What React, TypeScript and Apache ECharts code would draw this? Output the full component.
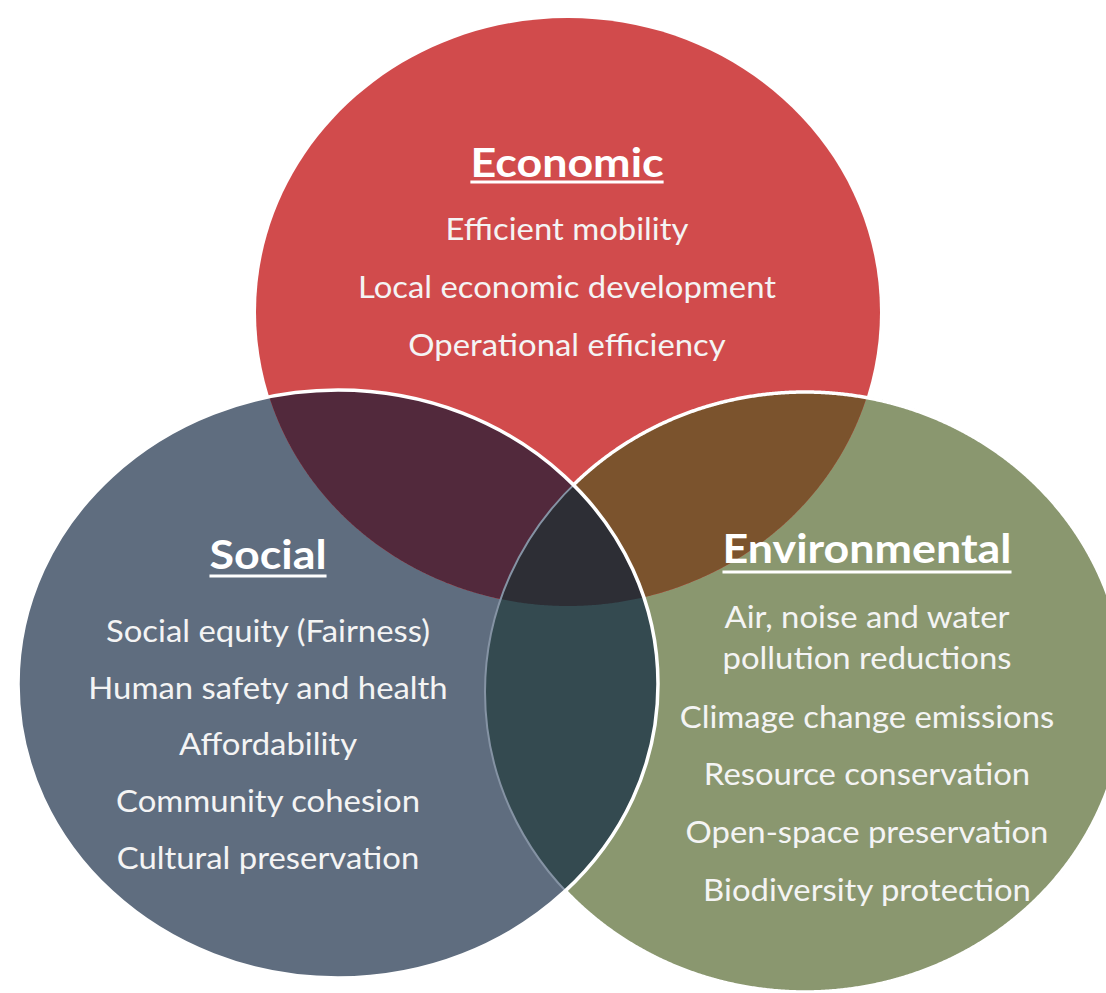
import React, { useEffect, useRef } from "react";
import * as echarts from "echarts";

// ---- Data (texts of the diagram) ----
const setTitles = ["Economic", "Social", "Environmental"];
const economicItems = ["Efficient mobility", "Local economic development", "Operational efficiency"];
const socialItems = [
  "Social equity (Fairness)",
  "Human safety and health",
  "Affordability",
  "Community cohesion",
  "Cultural preservation",
];
const environmentalItems = [
  "Air, noise and water",
  "pollution reductions",
  "Climage change emissions",
  "Resource conservation",
  "Open-space preservation",
  "Biodiversity protection",
];

// ---- Layout / style ----
type Ell = { cx: number; cy: number; rx: number; ry: number };
const ECO: Ell = { cx: 568, cy: 312, rx: 312, ry: 294 };
const SOC: Ell = { cx: 338, cy: 684, rx: 320, ry: 294 };
const ENV: Ell = { cx: 805, cy: 692, rx: 320, ry: 300 };

const C_ECO = "#D14B4C";
const C_SOC = "#5F6D7F";
const C_ENV = "#8A976F";
const C_ECO_SOC = "#52293C";
const C_ECO_ENV = "#7B532D";
const C_SOC_ENV = "#344A50";
const C_ALL = "#2D2E35";
const TXT = "#F4F4F4";
const FONT = "Lato, 'Open Sans', sans-serif";
const TITLE_SIZE = 40;
const ITEM_SIZE = 31;
const TITLE_SX = 1.12;
const ITEM_SX = 1.06;

const N = 1440;
function ellPts(e: Ell, t0 = 0): number[][] {
  const pts: number[][] = [];
  for (let i = 0; i < N; i++) {
    const t = t0 + (2 * Math.PI * i) / N;
    pts.push([e.cx + e.rx * Math.cos(t), e.cy + e.ry * Math.sin(t)]);
  }
  return pts;
}
function inside(p: number[], e: Ell) {
  const dx = (p[0] - e.cx) / e.rx;
  const dy = (p[1] - e.cy) / e.ry;
  return dx * dx + dy * dy <= 1;
}
// intersection of convex ellipses -> convex polygon (boundary samples sorted by angle)
function intersect(list: Ell[]): number[][] {
  const pts: number[][] = [];
  list.forEach((e) => {
    ellPts(e).forEach((p) => {
      if (list.every((o) => o === e || inside(p, o))) pts.push(p);
    });
  });
  const mx = pts.reduce((s, p) => s + p[0], 0) / pts.length;
  const my = pts.reduce((s, p) => s + p[1], 0) / pts.length;
  return pts.sort((a, b) => Math.atan2(a[1] - my, a[0] - mx) - Math.atan2(b[1] - my, b[0] - mx));
}

function measure(text: string, font: string) {
  const c = document.createElement("canvas").getContext("2d")!;
  c.font = font;
  return c.measureText(text).width;
}

export default function App() {
  const ref = useRef<HTMLDivElement>(null);
  useEffect(() => {
    document.body.style.margin = "0";
    const chart = echarts.init(ref.current!, null, { renderer: "svg" });

    const elements: any[] = [];
    // base fills
    [
      [ENV, C_ENV],
      [SOC, C_SOC],
      [ECO, C_ECO],
    ].forEach(([e, c]: any) => {
      elements.push({ type: "ellipse", shape: { ...e }, style: { fill: c } });
    });
    // overlaps
    [
      [[ECO, SOC], C_ECO_SOC],
      [[ECO, ENV], C_ECO_ENV],
      [[SOC, ENV], C_SOC_ENV],
      [[ECO, SOC, ENV], C_ALL],
    ].forEach(([l, c]: any) => {
      elements.push({ type: "polygon", shape: { points: intersect(l) }, style: { fill: c } });
    });
    // environmental outline: faint inside social, white elsewhere
    elements.push({
      type: "ellipse",
      shape: { ...ENV },
      style: { fill: "none", stroke: "#8593A4", lineWidth: 2 },
    });
    const envOut = ellPts(ENV, Math.PI).filter((p) => !inside(p, SOC));
    elements.push({
      type: "polyline",
      shape: { points: envOut },
      style: { fill: "none", stroke: "#FFFFFF", lineWidth: 3.5 },
    });
    // social outline white
    elements.push({
      type: "ellipse",
      shape: { ...SOC },
      style: { fill: "none", stroke: "#FFFFFF", lineWidth: 3.5 },
    });

    const titleFont = `bold ${TITLE_SIZE}px ${FONT}`;
    const blocks = [
      { title: setTitles[0], items: economicItems, x: 567, ty: 161, uy: 182, ys: [228, 286, 344] },
      { title: setTitles[1], items: socialItems, x: 268, ty: 553, uy: 576, ys: [630, 687, 743, 800, 857] },
      {
        title: setTitles[2],
        items: environmentalItems,
        x: 867,
        ty: 547,
        uy: 572,
        ys: [616, 657, 716, 773, 831, 889],
      },
    ];
    blocks.forEach((b) => {
      elements.push({
        type: "text",
        x: b.x,
        y: b.ty,
        scaleX: TITLE_SX,
        style: {
          text: b.title,
          fill: "#FFFFFF",
          fontSize: TITLE_SIZE,
          fontWeight: "bold",
          fontFamily: FONT,
          align: "center",
          verticalAlign: "middle",
          textAlign: "center",
          textVerticalAlign: "middle",
        },
      });
      const w = measure(b.title, titleFont) * TITLE_SX;
      elements.push({
        type: "line",
        shape: { x1: b.x - w / 2, y1: b.uy, x2: b.x + w / 2, y2: b.uy },
        style: { stroke: "#FFFFFF", lineWidth: 3 },
      });
      b.items.forEach((t, i) => {
        elements.push({
          type: "text",
          x: b.x,
          y: b.ys[i],
          scaleX: ITEM_SX,
          style: {
            text: t,
            fill: TXT,
            fontSize: ITEM_SIZE,
            fontFamily: FONT,
            align: "center",
            verticalAlign: "middle",
            textAlign: "center",
            textVerticalAlign: "middle",
          },
        });
      });
    });

    chart.setOption({
      animation: false,
      backgroundColor: "#FFFFFF",
      graphic: { elements },
    });
    return () => chart.dispose();
  }, []);
  return <div ref={ref} style={{ width: 1106, height: 993 }} />;
}
